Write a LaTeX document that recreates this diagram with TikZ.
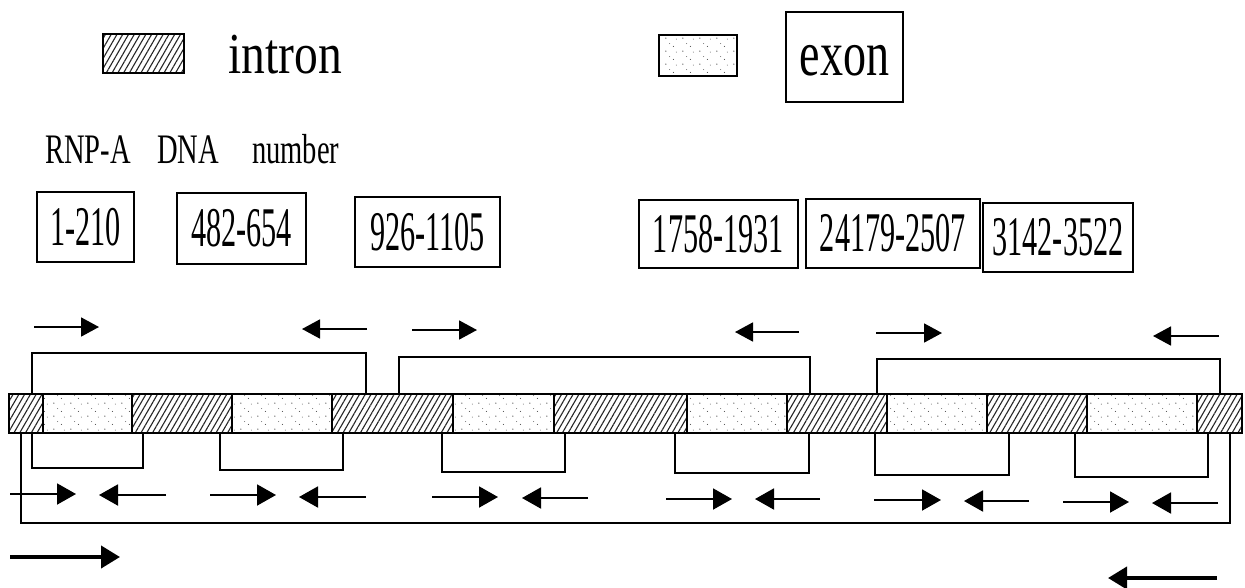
\documentclass[tikz,border=0pt]{standalone}
\usepackage{fontspec}
\setmainfont{Liberation Serif}
\usepackage{graphicx}
\usetikzlibrary{arrows.meta,patterns,patterns.meta}

\tikzdeclarepattern{
  name=exondots, type=uncolored,
  bottom left={(0pt,0pt)}, top right={(17pt,13pt)}, tile size={(17pt,13pt)},
  code={\fill (3pt,3pt) circle (0.7pt); \fill (11pt,8pt) circle (0.6pt); \fill (7pt,11pt) circle (0.5pt); \fill (14pt,2pt) circle (0.5pt);}
}

\newcommand\numtxt[1]{\scalebox{0.54}[1]{\fontsize{56}{60}\selectfont #1}}
\newcommand\lbltxt[1]{\scalebox{0.68}[1]{\fontsize{42}{46}\selectfont #1}}

\tikzset{
  seg/.style={draw, line width=2pt},
  intronfill/.style={seg, pattern={Lines[angle=60,distance=5pt,line width=1.1pt]}, pattern color=black!85},
  exonfill/.style={seg, pattern=exondots, pattern color=black!70},
  numbox/.style={draw, line width=1.5pt, inner sep=0pt},
  bracket/.style={draw, line width=1.6pt},
  primer/.style={line width=1.8pt, -{Triangle[length=18pt,width=19pt]}},
  lprimer/.style={line width=1.9pt, -{Triangle[length=19pt,width=21pt]}},
  bigprimer/.style={line width=4pt, -{Triangle[length=19pt,width=22pt]}},
}

\begin{document}
\begin{tikzpicture}[x=1pt,y=-1pt]
\useasboundingbox[fill=white] (0,0) rectangle (1245,587);

% legend
\draw[intronfill] (103,34) rectangle (184,73);
\node[anchor=base, inner sep=0pt] (lintron) at (285,73) {\scalebox{0.82}[1]{\fontsize{58}{60}\selectfont intron}};
\draw[exonfill] (659,35) rectangle (737,76);
\node[draw, line width=1.5pt, inner sep=0pt, minimum width=117pt, minimum height=90pt, text height=40pt, text depth=4pt] (lexon) at (844.5,57) {\scalebox{0.72}[1]{\fontsize{64}{66}\selectfont exon}};

% header
\node[anchor=base west, inner sep=0pt] (hrnp) at (45,163) {\lbltxt{RNP-A}};
\node[anchor=base west, inner sep=0pt] (hdna) at (157,163) {\lbltxt{DNA}};
\node[anchor=base west, inner sep=0pt] (hnum) at (252,163) {\lbltxt{number}};

% number boxes
\node[numbox, minimum width=97pt, minimum height=70pt] (n1) at (85.5,227) {\numtxt{1-210}};
\node[numbox, minimum width=129pt, minimum height=71pt] (n2) at (241.5,228.5) {\numtxt{482-654}};
\node[numbox, minimum width=145pt, minimum height=70pt] (n3) at (427.5,232) {\numtxt{926-1105}};
\node[numbox, minimum width=159pt, minimum height=68pt] (n4) at (718.5,234) {\numtxt{1758-1931}};
\node[numbox, minimum width=174pt, minimum height=69pt] (n5) at (893,233.5) {\numtxt{24179-2507}};
\node[numbox, line width=2.2pt, minimum width=150pt, minimum height=69pt] (n6) at (1058,237.5) {\numtxt{3142-3522}};

% gene bar
\foreach \a/\b/\t in {9/43/intronfill, 43/132/exonfill, 132/232/intronfill, 232/332/exonfill,
  332/453/intronfill, 453/554/exonfill, 554/687/intronfill, 687/787/exonfill, 787/887/intronfill,
  887/987/exonfill, 987/1087/intronfill, 1087/1197/exonfill, 1197/1242/intronfill}
  \draw[\t] (\a,394) rectangle (\b,433);

% upper brackets
\draw[bracket] (32,394) |- (366,353) -- (366,394);
\draw[bracket] (399,394) |- (810,357) -- (810,394);
\draw[bracket] (877,394) |- (1220,359) -- (1220,394);

% lower brackets
\draw[bracket] (32,433) |- (143,468) -- (143,433);
\draw[bracket] (220,433) |- (343,470) -- (343,433);
\draw[bracket] (442,433) |- (565,472) -- (565,433);
\draw[bracket] (675,433) |- (809,473) -- (809,433);
\draw[bracket] (875,433) |- (1009,475) -- (1009,433);
\draw[bracket] (1075,433) |- (1208,477) -- (1208,433);
\draw[bracket] (21,433) |- (1230,523) -- (1230,433);

% upper primers
\draw[primer] (34,327) -- (99,327);
\draw[primer] (367,329) -- (302,329);
\draw[primer] (412,330) -- (477,330);
\draw[primer] (799,332) -- (735,332);
\draw[primer] (876,333) -- (942,333);
\draw[primer] (1219,336) -- (1153,336);

% lower primer pairs
\draw[lprimer] (10,494) -- (76,494);
\draw[lprimer] (166,495) -- (99,495);
\draw[lprimer] (210,495) -- (276,495);
\draw[lprimer] (366,497) -- (299,497);
\draw[lprimer] (432,497) -- (498,497);
\draw[lprimer] (588,498) -- (522,498);
\draw[lprimer] (666,499) -- (732,499);
\draw[lprimer] (820,499) -- (755,499);
\draw[lprimer] (874,500) -- (941,500);
\draw[lprimer] (1029,501) -- (964,501);
\draw[lprimer] (1063,502) -- (1129,502);
\draw[lprimer] (1218,503) -- (1152,503);

% outer primers
\draw[bigprimer] (10,557) -- (120,557);
\draw[bigprimer] (1217,578) -- (1108,578);
\end{tikzpicture}
\end{document}
